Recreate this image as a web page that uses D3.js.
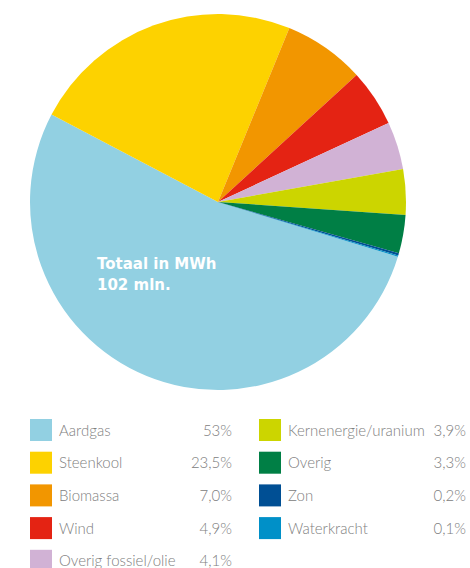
<!DOCTYPE html>
<html>
<head>
<meta charset="utf-8">
<script src="https://d3js.org/d3.v7.min.js"></script>
<style>
  body { margin: 0; background: #fff; }
</style>
</head>
<body>
<script>

// data
var labels = ["Aardgas", "Steenkool", "Biomassa", "Wind", "Overig fossiel/olie",
              "Kernenergie/uranium", "Overig", "Zon", "Waterkracht"];
var values = [53, 23.5, 7.0, 4.9, 4.1, 3.9, 3.3, 0.2, 0.1];
var pctLabels = ["53%", "23,5%", "7,0%", "4,9%", "4,1%", "3,9%", "3,3%", "0,2%", "0,1%"];
var colors = ["#92d0e2", "#fdd200", "#f29600", "#e42313", "#d1b2d5",
              "#ccd500", "#007f45", "#004f94", "#0090c8"];

var width = 470, height = 568;
var cx = 218, cy = 202, radius = 188;

var svg = d3.select("body").append("svg")
  .attr("width", width).attr("height", height);

var data = labels.map(function(d, i) { return {label: d, value: values[i], pct: pctLabels[i], color: colors[i]}; });

// aardgas starts a bit below 3 o'clock
var start = 106.9 * Math.PI / 180;
var pie = d3.pie().sort(null).value(function(d) { return d.value; })
  .startAngle(start).endAngle(start + 2 * Math.PI);

var arc = d3.arc().innerRadius(0).outerRadius(radius);

var g = svg.append("g").attr("transform", "translate(" + cx + "," + cy + ")");
g.selectAll("path")
  .data(pie(data))
  .enter()
  .append("path")
    .attr("d", arc)
    .attr("fill", function(d) { return d.data.color; });

svg.append("text").attr("x", 97).attr("y", 269)
  .attr("fill", "#fff").style("font", "bold 15px 'DejaVu Sans'")
  .text("Totaal in MWh");
svg.append("text").attr("x", 97).attr("y", 290)
  .attr("fill", "#fff").style("font", "bold 15px 'DejaVu Sans'")
  .text("102 mln.");

// legend: 5 left, 4 right
var rowY = d3.scaleLinear().domain([0, 1]).range([419, 451.7]);
var cols = [{sw: 30, tx: 59, px: 232}, {sw: 259, tx: 288, px: 466}];

var leg = svg.append("g").selectAll("g")
  .data(data)
  .enter()
  .append("g")
  .attr("transform", function(d, i) {
    var r = i < 5 ? i : i - 5;
    return "translate(0," + rowY(r) + ")";
  });

leg.append("rect")
  .attr("x", function(d, i) { return cols[i < 5 ? 0 : 1].sw; })
  .attr("width", 22).attr("height", 22)
  .attr("fill", function(d) { return d.color; });

leg.append("text")
  .attr("x", function(d, i) { return cols[i < 5 ? 0 : 1].tx; })
  .attr("y", 16.5)
  .attr("fill", "#808080")
  .style("font", "300 15px Lato")
  .text(function(d) { return d.label; });

leg.append("text")
  .attr("x", function(d, i) { return cols[i < 5 ? 0 : 1].px; })
  .attr("y", 16.5)
  .attr("text-anchor", "end")
  .attr("fill", "#808080")
  .style("font", "300 15px Lato")
  .text(function(d) { return d.pct; });

</script>
</body>
</html>
